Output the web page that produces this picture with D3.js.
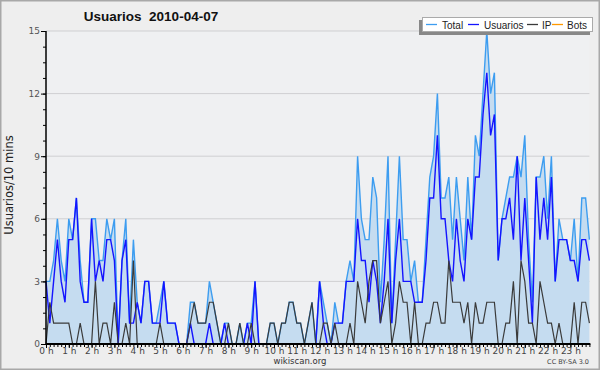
<!DOCTYPE html>
<html><head><meta charset="utf-8">
<script src="https://cdn.jsdelivr.net/npm/d3@7"></script>
<style>
html,body{margin:0;padding:0;background:#eeeeee;}
svg{display:block;font-family:"DejaVu Sans",Verdana,sans-serif;}
</style></head>
<body>
<svg id="chart" width="600" height="370"></svg>
<script>
// Data: one value per 10 minutes, 144 slots (0h00 .. 23h50)
const hourLabels = ["0 h","1 h","2 h","3 h","4 h","5 h","6 h","7 h","8 h","9 h","10 h","11 h","12 h","13 h","14 h","15 h","16 h","17 h","18 h","19 h","20 h","21 h","22 h","23 h"];
const yTicks = [0,3,6,9,12,15];
const seriesNames = ["Total","Usuarios","IP","Bots"];
const total = [3,3,4,6,4,3,6,5,7,4,2,2,6,6,4,4,6,5,6,0,4,6,1,5,2,1,3,3,1,1,2,3,1,1,1,0,
  0,0,2,2,1,1,1,3,2,1,0,1,1,0,0,1,0,1,1,3,0,0,0,1,1,0,1,1,2,2,1,1,0,1,2,0,
  3,2,1,0,2,1,1,3,4,3,9,6,5,5,8,7,2,5,9,1,5,9,5,5,3,4,2,2,5,8,9,12,7,7,8,5,
  8,6,4,8,5,10,9,12,15,12,13,4,6,7,8,8,9,8,10,5,2,8,8,9,6,9,3,6,5,5,4,6,3,7,7,5];
const usuarios = [3,1,3,5,3,2,5,5,7,3,2,2,6,3,4,3,5,5,4,0,4,5,1,1,2,1,3,3,1,1,1,3,1,1,1,0,
  0,0,1,0,0,0,0,1,0,0,0,1,0,0,0,0,0,1,0,3,0,0,0,0,0,0,0,0,0,0,0,0,0,0,0,0,
  3,1,0,0,1,1,1,3,3,3,6,4,4,2,4,3,1,3,6,1,4,6,3,3,3,2,2,2,4,7,7,10,6,6,4,3,
  6,4,3,6,5,8,8,11,13,10,11,4,6,6,7,5,9,4,7,4,1,8,5,7,5,8,3,5,5,5,4,4,3,5,5,4];
const ip = [0,2,1,1,1,1,1,0,0,1,0,0,0,3,0,1,1,0,2,0,0,1,0,4,0,0,0,0,0,0,1,0,0,0,0,0,
  0,0,1,2,1,1,1,2,2,1,0,0,1,0,0,1,0,0,1,0,0,0,0,1,1,0,1,1,2,2,1,1,0,1,2,0,
  0,1,1,0,1,0,0,0,1,0,3,2,1,3,4,4,1,2,3,0,1,3,2,2,0,2,0,0,1,1,2,2,1,1,4,2,
  2,2,1,2,0,2,1,1,2,2,2,0,0,1,1,3,0,4,3,1,1,0,3,2,1,1,0,1,0,0,0,2,0,2,2,1];
const bots = [0,0,0,0,0,0,0,0,0,0,0,0,0,0,0,0,0,0,0,0,0,0,0,0,0,0,0,0,0,0,0,0,0,0,0,0,
  0,0,0,0,0,0,0,0,0,0,0,0,0,0,0,0,0,0,0,0,0,0,0,0,0,0,0,0,0,0,0,0,0,0,0,0,
  0,0,0,0,0,0,0,0,0,0,0,0,0,0,0,0,0,0,0,0,0,0,0,0,0,0,0,0,0,0,0,0,0,0,0,0,
  0,0,0,0,0,0,0,0,0,0,0,0,0,0,0,0,0,0,0,0,0,0,0,0,0,0,0,0,0,0,0,0,0,0,0,0];

const colors = {Total:"#3d9df0", Usuarios:"#1414ff", IP:"#3a3a3a", Bots:"#ff9900", fill:"#c5dcf0"};

const svg = d3.select("#chart");
const W = 600, H = 370;
const mLeft = 46, mRight = 589.4, mTop = 31, mBottom = 344;

// outer frame
svg.append("rect").attr("x",0.75).attr("y",0.75).attr("width",W-1.5).attr("height",H-1.5)
  .attr("fill","#eeeeee").attr("stroke","#a8a8a8").attr("stroke-width",1.5);
// plot background
svg.append("rect").attr("x",mLeft).attr("y",mTop).attr("width",mRight-mLeft).attr("height",mBottom-mTop)
  .attr("fill","#eff0f2");

const x = d3.scaleLinear().domain([0,143]).range([mLeft,mRight]);
const y = d3.scaleLinear().domain([0,15]).range([mBottom,mTop]);

// gridlines
svg.append("g").selectAll("line").data(yTicks.filter(d=>d>0)).join("line")
  .attr("x1",mLeft).attr("x2",mRight).attr("y1",d=>y(d)).attr("y2",d=>y(d))
  .attr("stroke","#cfcfd2").attr("stroke-width",1);

// area under total
const area = d3.area().x((d,i)=>x(i)).y0(y(0)).y1(d=>y(d));
svg.append("path").datum(total).attr("d",area).attr("fill",colors.fill);

const line = d3.line().x((d,i)=>x(i)).y(d=>y(d));
svg.append("path").datum(bots).attr("d",line).attr("fill","none").attr("stroke",colors.Bots).attr("stroke-width",1.3);
svg.append("path").datum(total).attr("d",line).attr("fill","none").attr("stroke",colors.Total).attr("stroke-width",1.4);
svg.append("path").datum(usuarios).attr("d",line).attr("fill","none").attr("stroke",colors.Usuarios).attr("stroke-width",1.4);
svg.append("path").datum(ip).attr("d",line).attr("fill","none").attr("stroke",colors.IP).attr("stroke-width",1.2);

// y axis: minor ticks
const yMinor = d3.axisLeft(y).tickValues(d3.range(0,15.001,0.75)).tickSize(3).tickFormat("");
svg.append("g").attr("transform",`translate(${mLeft},0)`).call(yMinor)
  .call(g=>g.select(".domain").remove())
  .call(g=>g.selectAll("line").attr("stroke","#000"));
const yMajor = d3.axisLeft(y).tickValues(yTicks).tickSize(5).tickPadding(1).tickFormat(d3.format("d"));
svg.append("g").attr("transform",`translate(${mLeft},0)`).call(yMajor)
  .call(g=>g.select(".domain").remove())
  .call(g=>g.selectAll("line").attr("stroke","#000"))
  .call(g=>g.selectAll("text").attr("font-size",9).attr("fill","#555").attr("font-family","DejaVu Sans, sans-serif"));
svg.append("line").attr("x1",mLeft).attr("x2",mLeft).attr("y1",mTop).attr("y2",mBottom+1)
  .attr("stroke","#000").attr("stroke-width",1.5);

// x axis
const xMinor = d3.axisBottom(x).tickValues(d3.range(0,144,1)).tickSize(3).tickFormat("");
svg.append("g").attr("transform",`translate(0,${mBottom})`).call(xMinor)
  .call(g=>g.select(".domain").remove())
  .call(g=>g.selectAll("line").attr("stroke","#000"));
const xMajor = d3.axisBottom(x).tickValues(d3.range(0,144,6)).tickSize(4)
  .tickFormat((d,i)=>hourLabels[i]).tickPadding(0);
svg.append("g").attr("transform",`translate(0,${mBottom})`).call(xMajor)
  .call(g=>g.select(".domain").remove())
  .call(g=>g.selectAll("line").attr("stroke","#000"))
  .call(g=>g.selectAll("text").attr("font-size",9).attr("fill","#444").attr("font-family","DejaVu Sans, sans-serif"));
svg.append("line").attr("x1",mLeft).attr("x2",mRight+1).attr("y1",mBottom).attr("y2",mBottom)
  .attr("stroke","#000").attr("stroke-width",2);

// title
svg.append("text").attr("x",151).attr("y",21).attr("text-anchor","middle")
  .attr("font-family","Liberation Sans, Arial, sans-serif")
  .attr("font-size",13.5).attr("font-weight","bold").attr("fill","#111")
  .attr("xml:space","preserve").text("Usuarios  2010-04-07");

// y label
svg.append("text").attr("transform","translate(13,185) rotate(-90)").attr("text-anchor","middle")
  .attr("font-size",11.5).attr("fill","#222").text("Usuarios/10 mins");

// footer
svg.append("text").attr("x",300).attr("y",364).attr("text-anchor","middle")
  .attr("font-size",8.5).attr("fill","#333").text("wikiscan.org");
svg.append("text").attr("x",589).attr("y",364).attr("text-anchor","end")
  .attr("font-size",6.5).attr("fill","#444").text("CC BY-SA 3.0");

// legend
const lg = svg.append("g");
lg.append("rect").attr("x",419).attr("y",20).attr("width",171).attr("height",15).attr("fill","#888");
lg.append("rect").attr("x",422.5).attr("y",17.5).attr("width",170).attr("height",14).attr("fill","#fff").attr("stroke","#aaa");
const items = [
  {name:seriesNames[0], lx:426, tx:442},
  {name:seriesNames[1], lx:468, tx:484},
  {name:seriesNames[2], lx:527, tx:542},
  {name:seriesNames[3], lx:552, tx:567}
];
items.forEach(it=>{
  lg.append("line").attr("x1",it.lx).attr("x2",it.lx+11).attr("y1",24.5).attr("y2",24.5)
    .attr("stroke",colors[it.name]).attr("stroke-width",1.3);
  lg.append("text").attr("x",it.tx).attr("y",28.5).attr("font-family","Liberation Sans, Arial, sans-serif")
    .attr("font-size",10).attr("fill","#222").text(it.name);
});
</script>
</body></html>
